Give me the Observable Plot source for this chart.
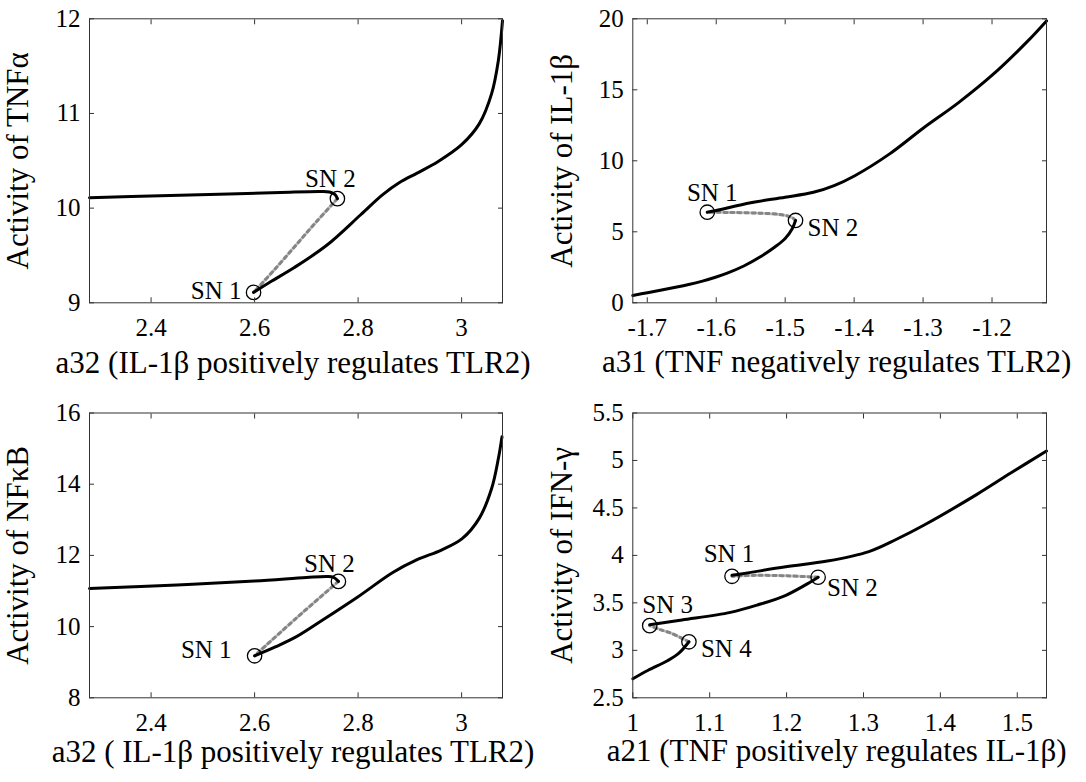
<!DOCTYPE html>
<html>
<head>
<meta charset="utf-8">
<script src="https://cdn.jsdelivr.net/npm/d3@7"></script>
<script src="https://cdn.jsdelivr.net/npm/@observablehq/plot@0.6"></script>
<style>
  body { margin: 0; background: #fff; }
  #grid { display: grid; grid-template-columns: 543px 543px; grid-template-rows: 391px 391px; width: 1086px; }
  #grid svg { display: block; font-family: "Liberation Serif", "Times New Roman", Times, serif !important; }
  #grid svg text { font-family: "Liberation Serif", "Times New Roman", Times, serif !important; }
</style>
</head>
<body>
<div id="grid"></div>
<script>
// ---------- Panel A: TNFα vs a32 ----------
const tnfHighX = [2.281, 2.418, 2.55, 2.65, 2.727, 2.745, 2.755, 2.76];
const tnfHighY = [10.11, 10.13, 10.15, 10.165, 10.175, 10.17, 10.145, 10.10];
const tnfMidX  = [2.76, 2.72, 2.68, 2.64, 2.598];
const tnfMidY  = [10.10, 9.86, 9.61, 9.36, 9.11];
const tnfLowX  = [2.598, 2.63, 2.676, 2.74, 2.805, 2.847, 2.88, 2.914, 2.954, 3.0, 3.034, 3.058, 3.071, 3.079];
const tnfLowY  = [9.11, 9.22, 9.37, 9.61, 9.93, 10.14, 10.27, 10.37, 10.49, 10.67, 10.89, 11.21, 11.56, 11.98];
const tnfSnX = [2.598, 2.76];
const tnfSnY = [9.11, 10.10];
const tnfSnNames = ["SN 1", "SN 2"];
const tnfXTicks = [2.4, 2.6, 2.8, 3];
const tnfYTicks = [9, 10, 11, 12];

// ---------- Panel B: IL-1β vs a31 ----------
const il1LowX  = [-1.721, -1.681, -1.64, -1.62, -1.60, -1.584, -1.56, -1.536, -1.515, -1.50, -1.49, -1.485];
const il1LowY  = [0.52, 0.88, 1.29, 1.53, 1.82, 2.09, 2.59, 3.24, 3.93, 4.53, 5.2, 5.8];
const il1MidX  = [-1.485, -1.49, -1.505, -1.536, -1.58, -1.613];
const il1MidY  = [5.8, 6.0, 6.2, 6.31, 6.36, 6.38];
const il1HighX = [-1.613, -1.60, -1.55, -1.50, -1.459, -1.429, -1.399, -1.349, -1.299, -1.249, -1.199, -1.149, -1.121];
const il1HighY = [6.38, 6.5, 7.05, 7.43, 7.78, 8.25, 8.95, 10.47, 12.33, 14.08, 16.06, 18.39, 19.85];
const il1SnX = [-1.613, -1.485];
const il1SnY = [6.38, 5.80];
const il1SnNames = ["SN 1", "SN 2"];
const il1XTicks = [-1.7, -1.6, -1.5, -1.4, -1.3, -1.2];
const il1YTicks = [0, 5, 10, 15, 20];

// ---------- Panel C: NFκB vs a32 ----------
const nfHighX = [2.281, 2.45, 2.6, 2.7, 2.74, 2.752, 2.762];
const nfHighY = [11.07, 11.17, 11.28, 11.38, 11.41, 11.39, 11.27];
const nfMidX  = [2.762, 2.68, 2.6];
const nfMidY  = [11.27, 10.23, 9.18];
const nfLowX  = [2.6, 2.64, 2.68, 2.733, 2.8, 2.867, 2.914, 2.961, 3.001, 3.034, 3.058, 3.071, 3.078];
const nfLowY  = [9.18, 9.43, 9.71, 10.2, 10.84, 11.52, 11.88, 12.15, 12.47, 13.04, 13.88, 14.72, 15.33];
const nfSnX = [2.6, 2.762];
const nfSnY = [9.18, 11.27];
const nfSnNames = ["SN 1", "SN 2"];
const nfXTicks = [2.4, 2.6, 2.8, 3];
const nfYTicks = [8, 10, 12, 14, 16];

// ---------- Panel D: IFN-γ vs a21 ----------
const ifnLowX   = [1.0, 1.02, 1.045, 1.06, 1.073];
const ifnLowY   = [2.70, 2.79, 2.89, 2.97, 3.09];
const ifnMidAX  = [1.073, 1.05, 1.035, 1.022];
const ifnMidAY  = [3.09, 3.18, 3.22, 3.26];
const ifnMidBX  = [1.022, 1.064, 1.127, 1.163, 1.199, 1.231, 1.241];
const ifnMidBY  = [3.27, 3.32, 3.40, 3.48, 3.58, 3.72, 3.77];
const ifnMidCX  = [1.241, 1.2, 1.16, 1.129];
const ifnMidCY  = [3.77, 3.785, 3.79, 3.78];
const ifnHighX  = [1.129, 1.199, 1.253, 1.307, 1.343, 1.379, 1.447, 1.492, 1.538];
const ifnHighY  = [3.79, 3.88, 3.94, 4.04, 4.17, 4.32, 4.64, 4.87, 5.10];
const ifnSnX = [1.129, 1.241, 1.022, 1.073];
const ifnSnY = [3.78, 3.77, 3.26, 3.09];
const ifnSnNames = ["SN 1", "SN 2", "SN 3", "SN 4"];
const ifnXTicks = [1, 1.1, 1.2, 1.3, 1.4, 1.5];
const ifnYTicks = [2.5, 3, 3.5, 4, 4.5, 5, 5.5];

// ---------- drawing ----------
const zip = (xs, ys) => xs.map((x, i) => ({x, y: ys[i]}));
const FONT = "Liberation Serif, Times New Roman, Times, serif";
const TICK_FS = 25, LABEL_FS = 31, SN_FS = 25;
const fmt = d => String(d);

function panel(cfg) {
  const marks = [];
  for (const [xs, ys] of cfg.unstable) {
    marks.push(Plot.line(zip(xs, ys), {x: "x", y: "y", stroke: "#cdcdcd", strokeWidth: 3, curve: "catmull-rom"}));
    marks.push(Plot.line(zip(xs, ys), {x: "x", y: "y", stroke: "#858585", strokeWidth: 3, strokeDasharray: "3,4", curve: "catmull-rom"}));
  }
  for (const [xs, ys] of cfg.stable) {
    marks.push(Plot.line(zip(xs, ys), {x: "x", y: "y", stroke: "black", strokeWidth: 3, curve: "catmull-rom"}));
  }
  const sn = cfg.snX.map((x, i) => ({x, y: cfg.snY[i], name: cfg.snNames[i]}));
  marks.push(Plot.dot(sn, {x: "x", y: "y", r: 7.2, stroke: "black", strokeWidth: 1.3, fill: "none"}));
  cfg.snLabels.forEach((l, i) => {
    marks.push(Plot.text([sn[i]], {x: "x", y: "y", text: "name", textAnchor: l.anchor, dx: l.dx, dy: l.dy,
      fontSize: SN_FS, fontFamily: FONT, lineAnchor: "middle", fill: "black"}));
  });
  marks.push(
    Plot.frame({stroke: "#333", strokeWidth: 1}),
    Plot.axisX(cfg.xTicks, {anchor: "bottom", tickSize: -5, fill: "none", label: null, stroke: "#333"}),
    Plot.axisX(cfg.xTicks, {anchor: "top", tickSize: -5, fill: "none", label: null, stroke: "#333"}),
    Plot.axisY(cfg.yTicks, {anchor: "left", tickSize: -5, fill: "none", label: null, stroke: "#333"}),
    Plot.axisY(cfg.yTicks, {anchor: "right", tickSize: -5, fill: "none", label: null, stroke: "#333"}),
    Plot.axisX(cfg.xTicks, {anchor: "bottom", tickSize: 0, tickPadding: 15, fontSize: TICK_FS, fontFamily: FONT, tickFormat: fmt, label: null, fill: "black"}),
    Plot.axisY(cfg.yTicks, {anchor: "left", tickSize: 0, tickPadding: 9, fontSize: TICK_FS, fontFamily: FONT, tickFormat: fmt, label: null, fill: "black"}),
    Plot.text([cfg.xLabel], {frameAnchor: "bottom", text: d => d, dy: cfg.xLabelDy, dx: -3, fontSize: LABEL_FS, fontFamily: FONT,
      textAnchor: "middle", lineAnchor: "middle", fill: "black"}),
    Plot.text([cfg.yLabel], {frameAnchor: "left", text: d => d, dx: -71, rotate: -90, fontSize: LABEL_FS, fontFamily: FONT,
      textAnchor: "middle", lineAnchor: "middle", fill: "black"})
  );
  return Plot.plot({
    width: 543,
    height: 391,
    marginTop: cfg.margins[0],
    marginRight: cfg.margins[1],
    marginBottom: cfg.margins[2],
    marginLeft: cfg.margins[3],
    x: {domain: cfg.xDomain},
    y: {domain: cfg.yDomain},
    style: {fontFamily: FONT, background: "white", overflow: "visible", color: "black"},
    marks
  });
}

const grid = document.getElementById("grid");

grid.appendChild(panel({
  xDomain: [2.281, 3.079], yDomain: [9, 12],
  margins: [18.3, 41, 88.7, 89],
  xTicks: tnfXTicks, yTicks: tnfYTicks,
  stable: [[tnfHighX, tnfHighY], [tnfLowX, tnfLowY]],
  unstable: [[tnfMidX, tnfMidY]],
  snX: tnfSnX, snY: tnfSnY, snNames: tnfSnNames,
  snLabels: [{anchor: "end", dx: -12, dy: -1}, {anchor: "middle", dx: -7, dy: -20}],
  xLabel: "a32 (IL-1β positively regulates TLR2)", xLabelDy: 60,
  yLabel: "Activity of TNFα"
}));

grid.appendChild(panel({
  xDomain: [-1.721, -1.121], yDomain: [0, 20],
  margins: [18.3, 40, 88.7, 89.3],
  xTicks: il1XTicks, yTicks: il1YTicks,
  stable: [[il1LowX, il1LowY], [il1HighX, il1HighY]],
  unstable: [[il1MidX, il1MidY]],
  snX: il1SnX, snY: il1SnY, snNames: il1SnNames,
  snLabels: [{anchor: "middle", dx: 5, dy: -19}, {anchor: "start", dx: 12, dy: 8}],
  xLabel: "a31 (TNF negatively regulates TLR2)", xLabelDy: 59,
  yLabel: "Activity of IL-1β"
}));

grid.appendChild(panel({
  xDomain: [2.281, 3.079], yDomain: [8, 16],
  margins: [21.5, 41, 84.7, 89],
  xTicks: nfXTicks, yTicks: nfYTicks,
  stable: [[nfHighX, nfHighY], [nfLowX, nfLowY]],
  unstable: [[nfMidX, nfMidY]],
  snX: nfSnX, snY: nfSnY, snNames: nfSnNames,
  snLabels: [{anchor: "end", dx: -23, dy: -6}, {anchor: "middle", dx: -9, dy: -17}],
  xLabel: "a32 ( IL-1β positively regulates TLR2)", xLabelDy: 54,
  yLabel: "Activity of NFκB"
}));

grid.appendChild(panel({
  xDomain: [1, 1.538], yDomain: [2.5, 5.5],
  margins: [21.5, 40, 84.7, 89.3],
  xTicks: ifnXTicks, yTicks: ifnYTicks,
  stable: [[ifnLowX, ifnLowY], [ifnMidBX, ifnMidBY], [ifnHighX, ifnHighY]],
  unstable: [[ifnMidAX, ifnMidAY], [ifnMidCX, ifnMidCY]],
  snX: ifnSnX, snY: ifnSnY, snNames: ifnSnNames,
  snLabels: [
    {anchor: "middle", dx: -3, dy: -22},
    {anchor: "start", dx: 9, dy: 11},
    {anchor: "middle", dx: 18, dy: -21},
    {anchor: "start", dx: 12, dy: 7}
  ],
  xLabel: "a21 (TNF positively regulates IL-1β)", xLabelDy: 53,
  yLabel: "Activity of IFN-γ"
}));
</script>
</body>
</html>
